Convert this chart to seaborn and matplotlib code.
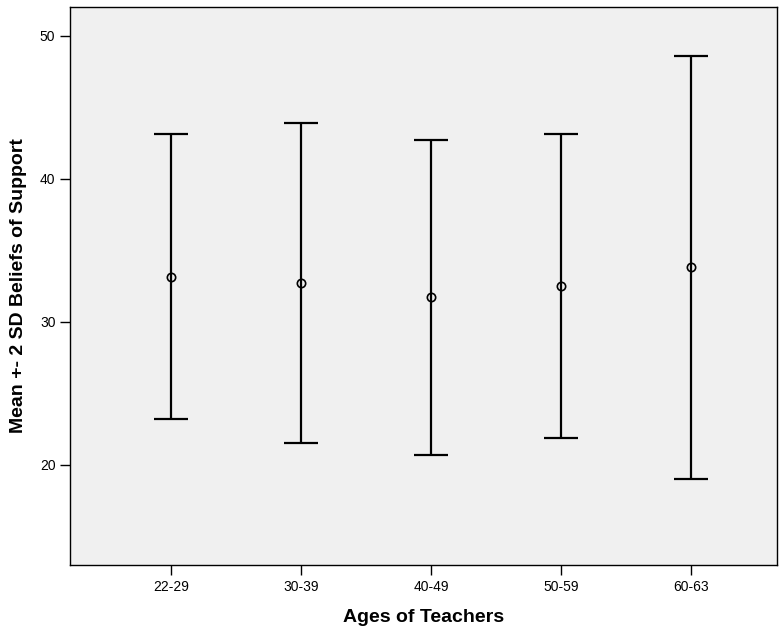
import matplotlib
matplotlib.use("Agg")
import matplotlib.pyplot as plt
import seaborn as sns
import pandas as pd

# summary values (mean and SD per age group)
age_groups = ["22-29", "30-39", "40-49", "50-59", "60-63"]
means = [33.15, 32.68, 31.70, 32.50, 33.80]
sds = [4.97, 5.59, 5.50, 5.32, 7.40]

df = pd.DataFrame({"age": age_groups, "mean": means, "sd": sds})
df["err"] = 2 * df["sd"]

sns.set_theme(style="ticks")
plt.rcParams["font.family"] = ["Liberation Sans", "DejaVu Sans"]

fig = plt.figure(figsize=(7.83, 6.31), dpi=100)
ax = fig.add_axes([70 / 783, 1 - 565 / 631, (777 - 70) / 783, (565 - 7) / 631])
ax.set_facecolor("#f0f0f0")

# mean +- 2 SD bars
ax.errorbar(range(len(df)), df["mean"], yerr=df["err"], fmt="none",
            ecolor="black", elinewidth=1.6, capsize=12, capthick=1.6, zorder=2)

sns.pointplot(data=df, x="age", y="mean", order=age_groups, errorbar=None,
              linestyle="none", marker="o", markersize=6,
              markerfacecolor="none", markeredgecolor="black",
              markeredgewidth=1.2, color="black", ax=ax, zorder=3)

ax.set_xlim(-0.78, 4.66)
ax.set_ylim(13, 52)
ax.set_yticks([20, 30, 40, 50])

for side in ["left", "right", "top", "bottom"]:
    ax.spines[side].set_visible(True)
    ax.spines[side].set_color("black")
    ax.spines[side].set_linewidth(1.0)

ax.tick_params(axis="both", direction="out", length=7, width=1.0,
               color="black", labelsize=10, labelcolor="black")
ax.grid(False)

ax.set_xlabel("Ages of Teachers", fontsize=14, fontweight="bold",
              color="black", labelpad=11)
ax.set_ylabel("Mean +- 2 SD Beliefs of Support", fontsize=14,
              fontweight="bold", color="black", labelpad=9)

fig.savefig("out.png", dpi=100)
